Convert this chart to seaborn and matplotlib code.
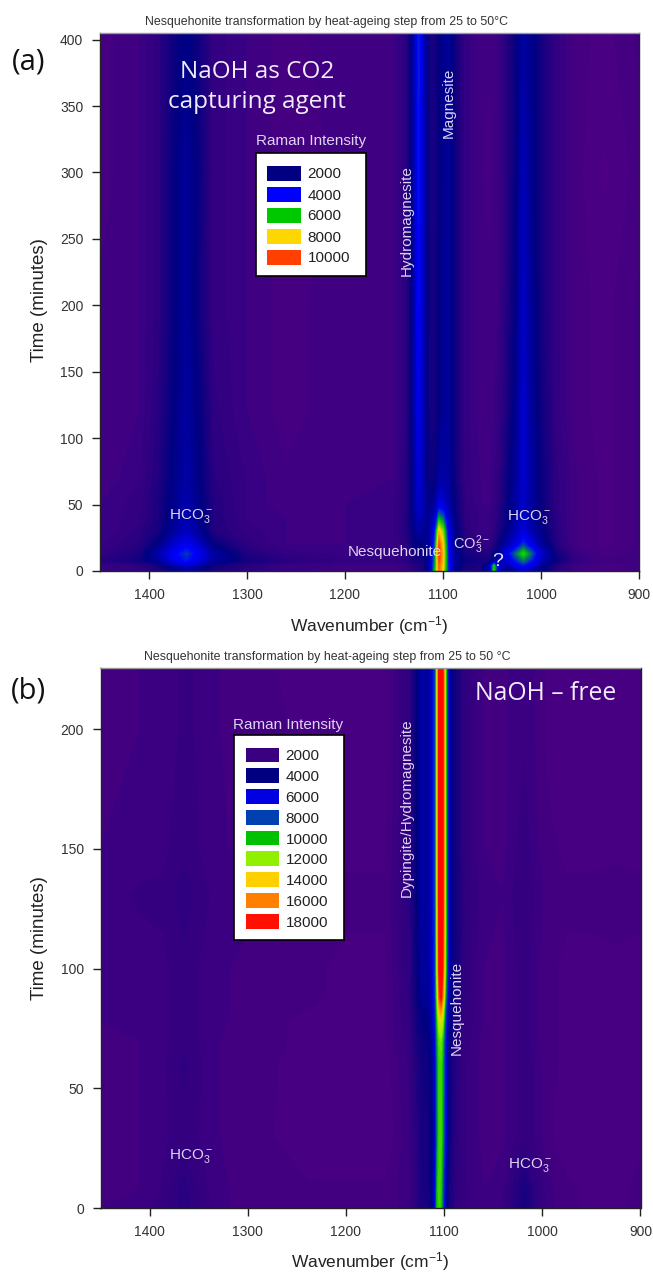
import numpy as np
import matplotlib
matplotlib.use("Agg")
import matplotlib.pyplot as plt
from matplotlib.colors import LinearSegmentedColormap, ListedColormap
import seaborn as sns

W, H = 653, 1272

# ---- panel (a) values, Raman intensity
wn_a = [1450, 1410, 1390, 1375, 1362, 1350, 1335, 1300, 1260, 1200, 1150, 1136, 1130, 1125, 1120, 1114, 1108, 1104,
        1100, 1095, 1088, 1078, 1062, 1052, 1048, 1044, 1036, 1026, 1018, 1010, 1000, 985, 965, 935, 900]
time_a = [0, 4, 8, 13, 20, 30, 40, 50, 70, 120, 200, 300, 405]
a_t0 = [1000, 1200, 1500, 2000, 2500, 2100, 1600, 1300, 1000, 900, 900, 1100, 1300, 1500, 1600, 2600, 6000, 9300,
        7800, 4500, 2300, 1600, 1500, 3000, 6200, 3500, 2200, 2700, 3300, 2800, 2100, 1400, 900, 800, 900]
a_t4 = [1100, 1300, 1700, 2500, 3100, 2600, 1800, 1400, 1100, 1000, 1000, 1200, 1400, 1500, 1600, 2500, 5700, 9500,
        8000, 4400, 2400, 1700, 1600, 3000, 6000, 3600, 2400, 3400, 4100, 3400, 2300, 1500, 1000, 800, 900]
a_t8 = [1400, 1700, 2500, 3600, 4200, 3600, 2500, 1700, 1400, 1200, 1200, 1400, 1600, 1700, 1700, 2400, 5500, 9800,
        8200, 4300, 2400, 1900, 1700, 1700, 2300, 2600, 3200, 4300, 5200, 4300, 2900, 1900, 1200, 900, 1000]
a_t13 = [1200, 1600, 2700, 3800, 4500, 3800, 2600, 1500, 1200, 1100, 1200, 1400, 1700, 1800, 1800, 2400, 5400, 10000,
         8300, 4300, 2300, 1700, 1500, 1500, 2000, 2400, 3500, 5000, 6300, 5000, 3200, 1800, 1100, 800, 900]
a_t20 = [1100, 1400, 2100, 3200, 3800, 3200, 2000, 1300, 1000, 1000, 1100, 1400, 1900, 2100, 2000, 2300, 4900, 9800,
         8000, 4100, 2200, 1500, 1200, 1200, 1500, 1800, 2600, 3500, 4500, 3600, 2500, 1500, 900, 700, 900]
a_t30 = [1000, 1300, 1700, 2400, 3000, 2400, 1500, 1200, 1000, 1000, 1100, 1500, 2100, 2500, 2300, 2300, 4300, 8300,
         7000, 3800, 2100, 1400, 1100, 1100, 1300, 1500, 2000, 2800, 3400, 2800, 2100, 1400, 900, 700, 900]
a_t40 = [1000, 1200, 1600, 2300, 2800, 2300, 1500, 1100, 1000, 1000, 1100, 1500, 2200, 2900, 2500, 2200, 3200, 5600,
         5000, 3300, 2000, 1300, 1100, 1100, 1200, 1400, 1800, 2500, 3100, 2500, 1900, 1400, 900, 700, 900]
a_t50 = [1000, 1200, 1600, 2200, 2700, 2200, 1500, 1100, 900, 1000, 1100, 1500, 2300, 3200, 2700, 2100, 2500, 3500,
         3400, 2700, 1900, 1300, 1000, 1000, 1200, 1300, 1800, 2500, 3100, 2500, 1900, 1300, 900, 700, 900]
a_t70 = [900, 1100, 1500, 2100, 2600, 2100, 1400, 1100, 900, 1000, 1000, 1500, 2300, 3400, 2600, 1800, 1900, 2500,
         2600, 2500, 1800, 1200, 1000, 1000, 1100, 1200, 1700, 2400, 3200, 2500, 1900, 1300, 900, 700, 900]
a_t120 = [900, 1000, 1400, 2000, 2500, 2000, 1300, 1000, 800, 1000, 1000, 1400, 2400, 3700, 2700, 1700, 1700, 2000,
          2300, 2400, 1800, 1200, 900, 900, 1000, 1100, 1500, 2200, 3200, 2400, 1800, 1200, 800, 700, 900]
a_t200 = [900, 1000, 1300, 1900, 2400, 1800, 1200, 1000, 800, 1000, 1000, 1400, 2400, 4000, 2800, 1700, 1700, 2000,
          2300, 2400, 1800, 1200, 900, 900, 1000, 1000, 1400, 2000, 3100, 2300, 1700, 1200, 800, 700, 900]
a_t300 = [800, 1000, 1300, 1900, 2400, 1900, 1200, 1000, 800, 900, 1000, 1400, 2500, 4200, 3000, 1700, 1700, 1900,
          2200, 2400, 1800, 1200, 900, 800, 900, 1000, 1300, 1900, 2900, 2200, 1700, 1200, 800, 600, 800]
a_t405 = [800, 1000, 1300, 1800, 2100, 1800, 1200, 1000, 800, 1000, 1000, 1400, 2500, 4300, 3000, 1700, 1700, 2000,
          2200, 2400, 1800, 1200, 900, 900, 1000, 1000, 1300, 1900, 2500, 2200, 1700, 1200, 800, 700, 900]

# ---- panel (b) values
wn_b = [1450, 1410, 1385, 1365, 1345, 1320, 1280, 1240, 1200, 1160, 1135, 1128, 1122, 1116, 1112, 1109, 1107, 1105,
        1103, 1101, 1099, 1097, 1095, 1090, 1080, 1060, 1040, 1028, 1018, 1008, 995, 975, 950, 925, 900]
time_b = [0, 8, 30, 60, 70, 78, 88, 100, 130, 150, 200, 226]
b_t0 = [1500, 1600, 1900, 2400, 1900, 1500, 1400, 1300, 1300, 1300, 1700, 2300, 3000, 3000, 4000, 6500, 10300, 10800,
        10000, 7500, 5200, 3900, 3000, 2300, 1800, 1500, 1700, 2500, 3100, 2300, 1600, 1300, 1200, 1200, 1300]
b_t8 = [1400, 1500, 1800, 2400, 1800, 1500, 1400, 1300, 1300, 1300, 1700, 2300, 3000, 3100, 4100, 6200, 10000, 10900,
        10300, 7800, 5500, 4000, 3100, 2300, 1800, 1500, 1700, 2400, 3000, 2200, 1600, 1300, 1200, 1200, 1300]
b_t30 = [1500, 1500, 1700, 1900, 1700, 1400, 1300, 1000, 1000, 1000, 1700, 2400, 3100, 3200, 4100, 5600, 9000, 10800,
         10800, 9000, 6500, 4800, 3500, 2500, 1800, 1400, 1400, 1700, 1900, 1700, 1300, 1100, 1100, 1000, 1200]
b_t60 = [1500, 1500, 1700, 2100, 1700, 1400, 1300, 1100, 1100, 1100, 1800, 2600, 3300, 3400, 4300, 5800, 9000, 10800,
         10900, 9200, 6600, 4900, 3600, 2600, 1800, 1400, 1400, 1700, 1900, 1700, 1300, 1200, 1200, 1100, 1200]
b_t70 = [1500, 1500, 1700, 1900, 1700, 1400, 1300, 1200, 1200, 1200, 1900, 2900, 3600, 3600, 4600, 6300, 9500, 11300,
         11500, 9800, 7000, 5200, 3900, 2700, 1900, 1400, 1400, 1700, 1900, 1600, 1300, 1200, 1200, 1200, 1200]
b_t78 = [1500, 1600, 1700, 1900, 1700, 1500, 1300, 1200, 1200, 1200, 2000, 3200, 4000, 4000, 5000, 6900, 10300, 13000,
         13500, 11500, 8000, 5800, 4200, 2900, 2000, 1500, 1400, 1700, 1900, 1600, 1300, 1200, 1200, 1200, 1200]
b_t88 = [1500, 1600, 1700, 1900, 1700, 1500, 1400, 1300, 1200, 1200, 2100, 3500, 4500, 4300, 5400, 7500, 12000, 17000,
         18200, 15000, 10500, 7000, 4700, 3200, 2100, 1500, 1400, 1700, 1900, 1600, 1300, 1200, 1200, 1200, 1200]
b_t100 = [1500, 1600, 1700, 1900, 1700, 1500, 1400, 1300, 1200, 1200, 2200, 3600, 4700, 4400, 5700, 7800, 13000, 18500,
          19800, 16800, 12000, 7800, 5000, 3400, 2100, 1500, 1400, 1700, 1900, 1600, 1300, 1200, 1200, 1200, 1200]
b_t130 = [1600, 1800, 1800, 2200, 1800, 1600, 1500, 1400, 1300, 1300, 2300, 3700, 4800, 4500, 5900, 8000, 13500, 19000,
          20000, 17500, 12500, 8000, 5000, 3400, 2200, 1600, 1500, 1800, 2000, 1700, 1400, 1300, 1300, 1350, 1300]
b_t150 = [1500, 1600, 1700, 1900, 1700, 1500, 1400, 1300, 1200, 1200, 2200, 3700, 4800, 4500, 5900, 8000, 13500, 19000,
          20000, 17500, 12500, 8000, 5000, 3400, 2100, 1500, 1400, 1700, 1900, 1600, 1300, 1200, 1200, 1200, 1200]
b_t200 = [1500, 1500, 1600, 1800, 1700, 1400, 1300, 1200, 1100, 1100, 2200, 3700, 4800, 4500, 5900, 8000, 13500, 19000,
          20000, 17500, 12500, 8000, 5000, 3400, 2100, 1500, 1400, 1600, 1700, 1500, 1200, 1100, 1100, 1100, 1100]
b_t226 = [1500, 1500, 1600, 1800, 1700, 1400, 1300, 1100, 1100, 1100, 2200, 3700, 4800, 4500, 5900, 8000, 13500, 19000,
          20000, 17500, 12500, 8000, 5000, 3400, 2100, 1500, 1400, 1600, 1700, 1500, 1200, 1100, 1100, 1100, 1100]

levels_a = [2000, 4000, 6000, 8000, 10000]
swatch_a = ["#000080", "#0000ff", "#00c800", "#ffd700", "#ff4000"]
levels_b = [2000, 4000, 6000, 8000, 10000, 12000, 14000, 16000, 18000]
swatch_b = ["#39007f", "#000080", "#0000e0", "#0040b0", "#00c000", "#90f000", "#ffd000", "#ff8000", "#ff1000"]
xticks = [1400, 1300, 1200, 1100, 1000, 900]
yticks_a = [0, 50, 100, 150, 200, 250, 300, 350, 400]
yticks_b = [0, 50, 100, 150, 200]

grid_a = np.array([a_t0, a_t4, a_t8, a_t13, a_t20, a_t30, a_t40, a_t50, a_t70, a_t120, a_t200, a_t300, a_t405])
grid_b = np.array([b_t0, b_t8, b_t30, b_t60, b_t70, b_t78, b_t88, b_t100, b_t130, b_t150, b_t200, b_t226])

sns.set_theme(style="ticks")
plt.rcParams["font.family"] = ["Liberation Sans", "DejaVu Sans"]
plt.rcParams["mathtext.default"] = "regular"

cmap_a = LinearSegmentedColormap.from_list("raman_a", [
    (0, "#540084"), (600 / 11000, "#4e0084"), (800 / 11000, "#440082"), (1000 / 11000, "#3a0082"),
    (1300 / 11000, "#2c0080"), (2000 / 11000, "#000080"), (4000 / 11000, "#0000ff"), (6000 / 11000, "#00c800"),
    (8000 / 11000, "#ffd700"), (10000 / 11000, "#ff4000"), (1, "#ff2000")])
cmap_b = LinearSegmentedColormap.from_list("raman_b", [
    (0, "#520084"), (1000 / 21000, "#4a0082"), (2000 / 21000, "#300080"), (4000 / 21000, "#000080"),
    (6000 / 21000, "#0000e0"), (8000 / 21000, "#0040b0"), (10000 / 21000, "#00c000"), (12000 / 21000, "#90f000"),
    (14000 / 21000, "#ffd000"), (16000 / 21000, "#ff8000"), (18000 / 21000, "#ff1000"), (1, "#ff0000")])

fig = plt.figure(figsize=(W / 100, H / 100), dpi=100, facecolor="white")


def px_axes(x0, y0, x1, y1, **kw):
    return fig.add_axes([x0 / W, 1 - y1 / H, (x1 - x0) / W, (y1 - y0) / H], **kw)


def px_text(x, y, s, **kw):
    kw.setdefault("ha", "center")
    kw.setdefault("va", "center")
    return fig.text(x / W, 1 - y / H, s, **kw)


def panel(rect, wn, times, grid, cmap, vmax, step, ymax, yticks):
    ax = px_axes(*rect)
    ax.contourf(wn, times, grid, levels=np.arange(0, vmax + step, step), cmap=cmap, vmin=0, vmax=vmax)
    ax.set_xlim(1450, 900)
    ax.set_ylim(0, ymax)
    ax.set_xticks(xticks)
    ax.set_yticks(yticks)
    ax.tick_params(labelsize=10, length=6, width=1, color="#222222", labelcolor="#333333", pad=6)
    for side in ax.spines:
        ax.spines[side].set_color("#222222")
        ax.spines[side].set_linewidth(1)
    ax.spines["top"].set_color("#999999")
    return ax


def legend_box(box, swatches, levels, colors):
    bg = px_axes(*box, zorder=5, facecolor="white")
    bg.set_xticks([])
    bg.set_yticks([])
    for side in bg.spines:
        bg.spines[side].set_color("black")
        bg.spines[side].set_linewidth(1.2)
    leg = px_axes(*swatches, zorder=6)
    sns.heatmap(np.array(levels).reshape(-1, 1), ax=leg, cmap=ListedColormap(colors), cbar=False,
                linewidths=4, linecolor="white", xticklabels=False, yticklabels=levels)
    leg.yaxis.tick_right()
    leg.tick_params(length=0, labelsize=11, labelrotation=0, labelcolor="#222222", pad=3)


panel((100, 33, 639, 571), wn_a, time_a, grid_a, cmap_a, 11000, 125, 405, yticks_a)
panel((100.5, 668, 640.5, 1208), wn_b, time_b, grid_b, cmap_b, 21000, 250, 225.5, yticks_b)

legend_box((256, 153, 366, 276), (263.5, 162.5, 303.5, 267.5), levels_a, swatch_a)
legend_box((234, 735, 344, 940), (242.5, 744.5, 281.5, 931.5), levels_b, swatch_b)

title_col = "#333333"
label_col = "#ddd4f0"
px_text(327, 22, "Nesquehonite transformation by heat-ageing step from 25 to 50°C", fontsize=8.9, color=title_col)
px_text(327, 657, "Nesquehonite transformation by heat-ageing step from 25 to 50 °C", fontsize=8.9, color=title_col)
px_text(369, 626, "Wavenumber (cm$^{-1}$)", fontsize=12.5, color="#222222")
px_text(370, 1262, "Wavenumber (cm$^{-1}$)", fontsize=12.5, color="#222222")
px_text(40, 300, "Time (minutes)", fontsize=13.5, rotation=90, color="#222222")
px_text(40, 938, "Time (minutes)", fontsize=13.5, rotation=90, color="#222222")

px_text(29, 62, "(a)", color="#111111", family="Open Sans", fontsize=21)
px_text(28, 691, "(b)", color="#111111", family="Open Sans", fontsize=21)
px_text(257, 87, "NaOH as CO2\ncapturing agent", color="#f0ecf8", linespacing=1.3, family="Open Sans", fontsize=17.5)
px_text(546, 693, "NaOH – free", color="#f0ecf8", family="Open Sans", fontsize=17.8)

px_text(311, 141, "Raman Intensity", fontsize=11, color=label_col)
px_text(288, 725, "Raman Intensity", fontsize=11, color=label_col)

small = dict(fontsize=11, color=label_col)
px_text(407, 221, "Hydromagnesite", rotation=90, **small)
px_text(449, 103, "Magnesite", rotation=90, **small)
px_text(191, 516, "HCO$_3^-$", **small)
px_text(529, 517, "HCO$_3^-$", **small)
px_text(395, 552, "Nesquehonite", **small)
px_text(472, 545, "CO$_3^{2-}$", fontsize=10.5, color=label_col)
px_text(498, 561, "?", fontsize=14, color="#e8e4f4")
px_text(407, 808, "Dypingite/Hydromagnesite", rotation=90, **small)
px_text(457, 1008, "Nesquehonite", rotation=90, **small)
px_text(191, 1156, "HCO$_3^-$", **small)
px_text(530, 1165, "HCO$_3^-$", **small)

fig.savefig("out.png", dpi=100)
